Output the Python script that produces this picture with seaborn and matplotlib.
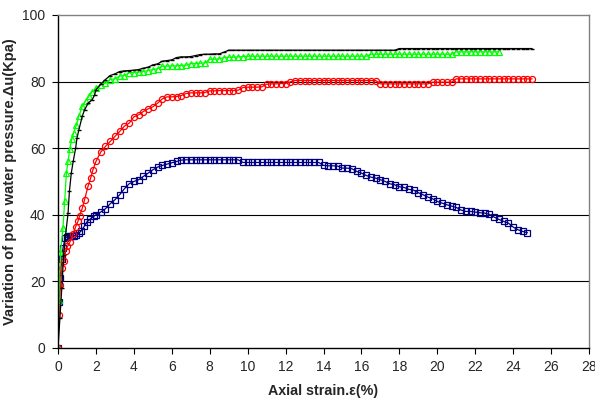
import numpy as np
import pandas as pd
import matplotlib
matplotlib.use("Agg")
import matplotlib.pyplot as plt
import seaborn as sns

# strain steps used for the later part of each test (0.25 %)
strain_grid = [2.0, 2.25, 2.5, 2.75, 3.0, 3.25, 3.5, 3.75, 4.0, 4.25, 4.5, 4.75,
               5.0, 5.25, 5.5, 5.75, 6.0, 6.25, 6.5, 6.75, 7.0, 7.25, 7.5, 7.75,
               8.0, 8.25, 8.5, 8.75, 9.0, 9.25, 9.5, 9.75, 10.0, 10.25, 10.5, 10.75,
               11.0, 11.25, 11.5, 11.75, 12.0, 12.25, 12.5, 12.75, 13.0, 13.25, 13.5, 13.75,
               14.0, 14.25, 14.5, 14.75, 15.0, 15.25, 15.5, 15.75, 16.0, 16.25, 16.5, 16.75,
               17.0, 17.25, 17.5, 17.75, 18.0, 18.25, 18.5, 18.75, 19.0, 19.25, 19.5, 19.75,
               20.0, 20.25, 20.5, 20.75, 21.0, 21.25, 21.5, 21.75, 22.0, 22.25, 22.5, 22.75,
               23.0, 23.25, 23.5, 23.75, 24.0, 24.25, 24.5, 24.75, 25.0]

# black series (dash markers)
black_x0 = [0.0, 0.1, 0.2, 0.3, 0.4, 0.53, 0.6, 0.7, 0.8, 0.93, 1.0, 1.1, 1.28, 1.4, 1.6, 1.8, 1.93]
black_y0 = [0.0, 9.0, 18.0, 28.0, 34.0, 40.5, 47.0, 52.5, 56.0, 60.0, 63.0, 65.5, 69.6, 71.5, 73.6, 74.5, 76.0]
black_tail = [77.5, 79.2, 80.6, 81.8, 82.3, 83.0, 83.2, 83.3, 83.4, 83.6, 84.0, 84.3,
              85.0, 85.3, 86.1, 86.3, 86.5, 87.2, 87.4, 87.4, 87.5, 87.8, 88.1, 88.2,
              88.2, 88.3, 88.3, 88.8] + [89.4] * 36 + [89.9] * 29

# green series (triangles)
green_x0 = [0.0, 0.05, 0.13, 0.26, 0.35, 0.44, 0.53, 0.62, 0.72, 0.83, 0.97, 1.1, 1.28, 1.45, 1.63, 1.8]
green_y0 = [0.0, 14.5, 28.8, 36.0, 44.0, 52.5, 56.0, 59.8, 62.6, 64.6, 67.0, 69.6, 72.6, 74.2, 75.6, 77.0]
green_tail = [78.0, 79.0, 79.5, 80.6, 80.8, 81.6, 81.8, 82.6, 82.7, 82.8, 83.0, 83.3,
              83.6, 83.8, 84.6, 84.6, 84.7, 84.7, 84.8, 84.9, 85.4, 85.4, 85.5, 85.6,
              86.7, 86.7, 86.8, 87.2, 87.3, 87.3, 87.4, 87.5, 87.6] + [87.6] * 25 + [88.2] * 18 + [88.9] * 10

# red series (circles)
red_x0 = [0.0, 0.05, 0.13, 0.21, 0.32, 0.4, 0.5, 0.62, 0.79, 0.93, 1.05, 1.14, 1.28, 1.4, 1.58, 1.72, 1.84]
red_y0 = [0.0, 9.8, 18.9, 24.0, 26.0, 29.0, 30.5, 31.7, 34.2, 36.4, 38.0, 39.7, 42.0, 44.5, 48.5, 51.0, 53.5]
red_tail = [56.0, 58.8, 60.5, 62.0, 63.5, 65.0, 66.6, 67.5, 69.4, 70.0, 71.0, 71.8,
            72.4, 73.5, 74.8, 75.4, 75.4, 75.5, 75.8, 76.4, 76.6, 76.6, 76.6, 76.7,
            77.2, 77.2, 77.3, 77.3, 77.3, 77.3, 77.4, 78.2, 78.3, 78.3, 78.3, 78.4,
            79.2, 79.3, 79.3, 79.4, 79.4, 79.9] + [80.3] * 18 + [79.3] * 11 + [79.8] * 5 + [80.8] * 17

# blue series (squares)
blue_x0 = [0.0, 0.05, 0.1, 0.2, 0.26, 0.37, 0.45, 0.55, 0.65, 0.75, 0.85, 0.97, 1.1, 1.23, 1.38, 1.53, 1.7, 1.88]
blue_y0 = [0.0, 13.9, 20.9, 26.6, 29.9, 32.9, 33.3, 33.5, 33.6, 33.6, 33.7, 33.8, 34.5, 35.2, 36.5, 37.9, 38.7, 39.5]
blue_tail = [40.0, 40.8, 41.8, 43.3, 44.5, 46.0, 47.8, 49.3, 50.0, 50.5, 51.5, 52.5,
             53.5, 54.3, 54.8, 55.2, 55.6, 56.0, 56.4, 56.5] + [56.5] * 11 + [55.7] * 17 + \
            [54.8, 54.7, 54.7, 54.6, 54.0, 54.0, 53.8, 53.0, 52.5, 51.8,
             51.3, 51.0, 50.5, 50.0, 49.3, 49.0, 48.4, 48.2, 47.6, 47.4,
             46.6, 46.0, 45.3, 44.8, 44.0, 43.5, 43.0, 42.6, 42.2, 41.4,
             41.0, 41.0, 40.8, 40.6, 40.5, 40.1, 39.3, 38.6, 38.0, 37.5,
             36.3, 35.5, 35.0, 34.6]


def series(x0, y0, tail):
    return pd.DataFrame({"strain": x0 + strain_grid[:len(tail)], "du": y0 + tail})


sns.set_style("white")
plt.rcParams["font.family"] = ["Liberation Sans", "DejaVu Sans"]

fig = plt.figure(figsize=(5.95, 4.03), dpi=100)
ax = fig.add_axes([0.0975, 0.1365, 0.8925, 0.8265])

# horizontal grid lines first so the curves sit on top
for g in [20, 40, 60, 80]:
    ax.axhline(g, color="black", lw=0.8, zorder=0)

common = dict(sort=False, estimator=None, ax=ax, linewidth=0.9)
sns.lineplot(data=series(blue_x0, blue_y0, blue_tail), x="strain", y="du", color="#000080",
             marker="s", markersize=4.2, markerfacecolor="none", markeredgecolor="#000080",
             markeredgewidth=0.9, **common)
sns.lineplot(data=series(red_x0, red_y0, red_tail), x="strain", y="du", color="#ff0000",
             marker="o", markersize=4.4, markerfacecolor="none", markeredgecolor="#ff0000",
             markeredgewidth=0.9, **common)
sns.lineplot(data=series(green_x0, green_y0, green_tail), x="strain", y="du", color="#00ff00",
             marker="^", markersize=4.6, markerfacecolor="none", markeredgecolor="#00ff00",
             markeredgewidth=0.9, **common)
sns.lineplot(data=series(black_x0, black_y0, black_tail), x="strain", y="du", color="black",
             marker="_", markersize=2.5, markeredgecolor="black", markeredgewidth=1.0, **common)

ax.set_xlim(0, 28)
ax.set_ylim(0, 100)
ax.set_xticks(range(0, 29, 2))
ax.set_yticks(range(0, 101, 20))
ax.tick_params(axis="both", direction="out", length=4, width=0.8, color="black",
               labelsize=10, pad=5, left=True, bottom=True)

for side in ["left", "bottom"]:
    ax.spines[side].set_color("black")
    ax.spines[side].set_linewidth(1.0)
for side in ["top", "right"]:
    ax.spines[side].set_color("#808080")
    ax.spines[side].set_linewidth(1.0)

ax.set_xlabel("Axial strain.ε(%)", fontsize=10.3, fontweight="bold", labelpad=7)
ax.set_ylabel("Variation of pore water pressure.Δu(Kpa)", fontsize=10.6, fontweight="bold", labelpad=4)

fig.savefig("out.png", dpi=100)
